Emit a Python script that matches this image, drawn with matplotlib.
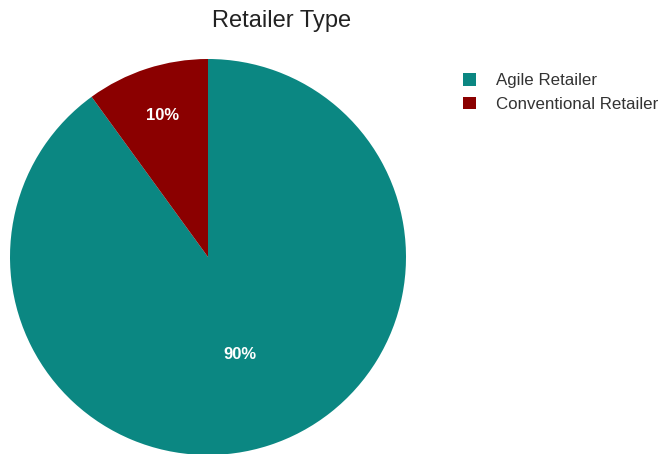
import numpy as np
import matplotlib.pyplot as plt
from matplotlib.patches import Patch

plt.rcParams['font.family'] = ['Liberation Sans', 'DejaVu Sans']

# retailer split
categories = ['Agile Retailer', 'Conventional Retailer']
shares = [90, 10]
colors = ['#0b8782', '#8b0000']

fig = plt.figure(figsize=(6.63, 4.54), dpi=100)
W, H = 663, 454

# square pie axes, centre (208, 257) px, radius 198 px
cx, cy, r = 208, 257, 198
ax = fig.add_axes([(cx - r) / W, (H - cy - r) / H, 2 * r / W, 2 * r / H])

wedges, texts = ax.pie(shares, colors=colors, startangle=90, counterclock=False,
                       radius=1.0, wedgeprops=dict(linewidth=0))
ax.set_xlim(-1, 1)
ax.set_ylim(-1, 1)
ax.set_aspect('auto')
ax.axis('off')

# percentage labels, the small slice is pushed further out
dists = [0.52, 0.75]
for w, val, d in zip(wedges, shares, dists):
    mid = np.deg2rad((w.theta1 + w.theta2) / 2)
    ax.text(d * np.cos(mid), d * np.sin(mid), f'{val}%', ha='center', va='center',
            color='white', fontsize=12, fontweight='bold')

fig.text(282 / W, 1 - 21 / H, 'Retailer Type', ha='center', va='center',
         fontsize=17, color='#222222')

handles = [Patch(facecolor=c, edgecolor='none') for c in colors]
fig.legend(handles, categories, loc='upper left', bbox_to_anchor=(448 / W, 1 - 58 / H),
           frameon=False, handlelength=0.75, handleheight=0.75, handletextpad=1.2,
           labelspacing=0.5, fontsize=12.2, labelcolor='#333333')

fig.savefig('out.png', dpi=100)
